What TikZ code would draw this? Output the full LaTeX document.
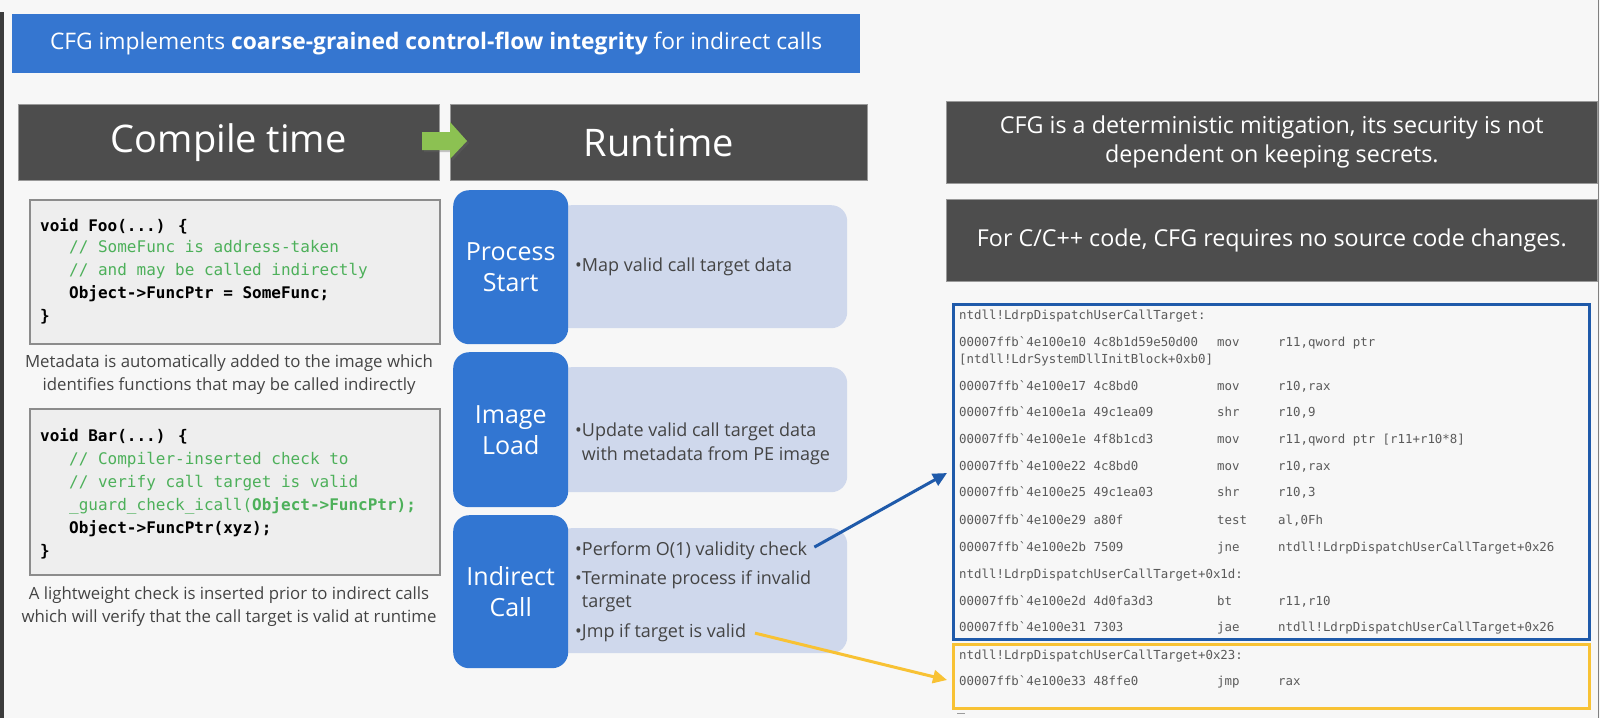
\documentclass[tikz,border=0pt]{standalone}
\usepackage{fontspec}
\setmainfont{Open Sans}
\newfontfamily\codefont{DejaVu Sans Mono}
\usetikzlibrary{%
	positioning,%
	calc,%
	arrows.meta
}
\definecolor{pagebg}{HTML}{F7F7F7}
\definecolor{titleblue}{HTML}{3576D0}
\definecolor{headgray}{HTML}{4D4D4D}
\definecolor{codefill}{HTML}{EEEEEE}
\definecolor{codeframe}{HTML}{8C8C8C}
\definecolor{codegreen}{HTML}{4DB05A}
\definecolor{stageblue}{HTML}{3276D2}
\definecolor{stagepanel}{HTML}{CFD8EC}
\definecolor{textgray}{HTML}{444444}
\definecolor{asmgray}{HTML}{5A5A5A}
\definecolor{asmblue}{HTML}{1F5AAA}
\definecolor{asmyellow}{HTML}{F8C234}
\definecolor{arrowgreen}{HTML}{8CC152}
\definecolor{framegray}{HTML}{3C3C3C}
\newcommand{\bq}{\textasciigrave}

\tikzstyle{headbox}=[fill=headgray, draw=black!40, line width=0.6pt, text=white, inner sep=0, anchor=north west]
\tikzstyle{codebox}=[fill=codefill, draw=codeframe, line width=1.8pt, inner sep=0, anchor=north west]
\tikzstyle{codeline}=[anchor=west, inner sep=0, text height=11pt, text depth=4pt, font=\codefont\fontsize{16}{20}\selectfont]
\tikzstyle{caption}=[align=center, text=textgray, font=\fontsize{16.8}{23}\selectfont]
\tikzstyle{stage}=[fill=stageblue, rounded corners=16pt, text=white, align=center, inner sep=0, anchor=north west, font=\fontsize{25}{31}\selectfont]
\tikzstyle{panel}=[fill=stagepanel, rounded corners=16pt, inner sep=0, anchor=north west]
\tikzstyle{bullet}=[anchor=west, inner sep=0, text=textgray, text height=13pt, text depth=5pt, font=\fontsize{18}{22}\selectfont]
\tikzstyle{asmline}=[anchor=west, inner sep=0, text=asmgray, text height=9pt, text depth=3pt, font=\codefont\fontsize{12.4}{15}\selectfont]
\tikzstyle{callarrow}=[line width=3pt, -{Triangle[length=14pt,width=13pt]}]

\begin{document}
\begin{tikzpicture}[x=1pt, y=-1pt]
	\useasboundingbox (0,0) rectangle (1600,718);
	\fill[pagebg] (0,0) rectangle (1600,718);
	\fill[framegray] (0,12) rectangle (4,718);
	\draw[black!50, line width=1pt] (1598.5,0) -- (1598.5,718);

	% Title bar
	\node[fill=titleblue, text=white, inner sep=0, anchor=north west, minimum width=848, minimum height=59, font=\fontsize{22.8}{27}\selectfont] (title) at (12,14)
		{CFG implements \textbf{coarse-grained control-flow integrity} for indirect calls};

	% Headers
	\node[headbox, minimum width=421, minimum height=76, font=\fontsize{38}{44}\selectfont] (compile) at (18,104) {Compile time};
	\node[headbox, minimum width=417, minimum height=76, font=\fontsize{38}{44}\selectfont] (runtime) at (450,104) {Runtime};
	\fill[black!60, opacity=0.35] (424,134) -- (452,134) -- (452,124) -- (469,143) -- (452,161) -- (452,152) -- (424,152) -- cycle;
	\fill[arrowgreen] (422,132) -- (450,132) -- (450,122) -- (467,141) -- (450,159) -- (450,150) -- (422,150) -- cycle;

	% Compile time code
	\node[codebox, minimum width=410, minimum height=144] (foo) at (29,199) {};
	\node[codebox, minimum width=410, minimum height=166] (bar) at (29,408) {};
	\foreach \x/\y/\txt in {40/228/{\textbf{void Foo(...) \{}},
		69/249/{\color{codegreen}// SomeFunc is address-taken},
		69/272/{\color{codegreen}// and may be called indirectly},
		69/295/{\textbf{Object->FuncPtr = SomeFunc;}},
		40/318/{\textbf{\}}},
		40/438/{\textbf{void Bar(...) \{}},
		69/461/{\color{codegreen}// Compiler-inserted check to},
		69/484/{\color{codegreen}// verify call target is valid},
		69/507/{\color{codegreen}\_guard\_check\_icall(\textbf{Object->FuncPtr);}},
		69/530/{\textbf{Object->FuncPtr(xyz);}},
		40/553/{\textbf{\}}}}
		\node[codeline] at (\x,\y) {\txt};
	\node[caption] (fooinfo) at (229,375) {Metadata is automatically added to the image which\\identifies functions that may be called indirectly};
	\node[caption] (barinfo) at (229,607) {A lightweight check is inserted prior to indirect calls\\which will verify that the call target is valid at runtime};

	% Runtime stages
	\node[panel, minimum width=292, minimum height=123] (startpanel) at (555,205) {};
	\node[panel, minimum width=292, minimum height=125] (loadpanel) at (555,367) {};
	\node[panel, minimum width=292, minimum height=125] (callpanel) at (555,528) {};
	\node[stage, minimum width=115, minimum height=154] (pstart) at (453,190) {Process\\Start};
	\node[stage, minimum width=115, minimum height=155] (iload) at (453,352) {Image\\Load};
	\node[stage, minimum width=115, minimum height=153] (icall) at (453,515) {Indirect\\Call};
	\node[bullet] (mapdata) at (575,267) {\textbullet Map valid call target data};
	\node[bullet] (update) at (575,432) {\textbullet Update valid call target data};
	\node[bullet] (update2) at (575,456) {\hphantom{\textbullet}with metadata from PE image};
	\node[bullet] (perform) at (575,551) {\textbullet Perform O(1) validity check};
	\node[bullet] (terminate) at (575,580) {\textbullet Terminate process if invalid};
	\node[bullet] (terminate2) at (575,603) {\hphantom{\textbullet}target};
	\node[bullet] (jmp) at (575,633) {\textbullet Jmp if target is valid};

	% Notes
	\node[headbox, minimum width=651, minimum height=82, align=center, font=\fontsize{23.3}{29}\selectfont] (determ) at (946,101)
		{CFG is a deterministic mitigation, its security is not\\dependent on keeping secrets.};
	\node[headbox, minimum width=651, minimum height=82, font=\fontsize{23.3}{29}\selectfont] (nosource) at (946,199)
		{For C/C++ code, CFG requires no source code changes.};

	% Disassembly
	\node[draw=asmblue, line width=3pt, inner sep=0, anchor=north west, minimum width=636, minimum height=335] (asmbox) at (952,303) {};
	\node[draw=asmyellow, line width=3pt, inner sep=0, anchor=north west, minimum width=636, minimum height=64] (jmpbox) at (952,643) {};
	\foreach \y/\addr/\mn/\arg in {316/{ntdll!LdrpDispatchUserCallTarget:}/{}/{},
		343/{00007ffb\bq 4e100e10 4c8b1d59e50d00}/mov/{r11,qword ptr},
		360/{[ntdll!LdrSystemDllInitBlock+0xb0]}/{}/{},
		387/{00007ffb\bq 4e100e17 4c8bd0}/mov/{r10,rax},
		413/{00007ffb\bq 4e100e1a 49c1ea09}/shr/{r10,9},
		440/{00007ffb\bq 4e100e1e 4f8b1cd3}/mov/{r11,qword ptr [r11+r10*8]},
		467/{00007ffb\bq 4e100e22 4c8bd0}/mov/{r10,rax},
		493/{00007ffb\bq 4e100e25 49c1ea03}/shr/{r10,3},
		521/{00007ffb\bq 4e100e29 a80f}/test/{al,0Fh},
		548/{00007ffb\bq 4e100e2b 7509}/jne/{ntdll!LdrpDispatchUserCallTarget+0x26},
		575/{ntdll!LdrpDispatchUserCallTarget+0x1d:}/{}/{},
		602/{00007ffb\bq 4e100e2d 4d0fa3d3}/bt/{r11,r10},
		628/{00007ffb\bq 4e100e31 7303}/jae/{ntdll!LdrpDispatchUserCallTarget+0x26},
		656/{ntdll!LdrpDispatchUserCallTarget+0x23:}/{}/{},
		682/{00007ffb\bq 4e100e33 48ffe0}/jmp/{rax}}
	{
		\node[asmline] at (959,\y) {\addr};
		\node[asmline] at (1217,\y) {\mn};
		\node[asmline] at (1278,\y) {\arg};
	}
	\draw[asmgray!60, line width=1pt] (957,713) -- (965,713);

	% Arrows into the listing
	\coordinate (bluetip) at (947,473);
	\coordinate (yellowtip) at (947,680);
	\draw[callarrow, asmblue, shorten <=8pt] (perform.east) -- (bluetip);
	\draw[callarrow, asmyellow, shorten <=9pt] ([yshift=2pt]jmp.east) -- (yellowtip);
\end{tikzpicture}
\end{document}
